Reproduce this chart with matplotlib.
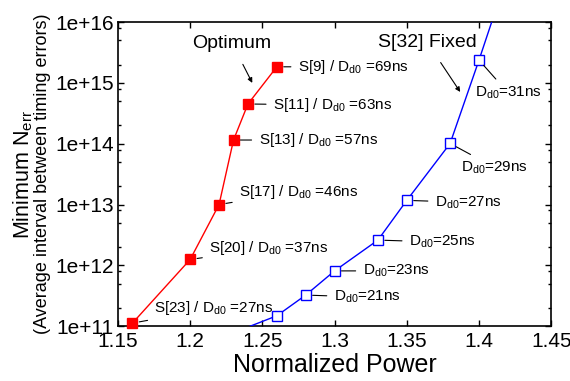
import numpy as np
import matplotlib
matplotlib.use('Agg')
import matplotlib.pyplot as plt
from matplotlib.ticker import LogLocator, FuncFormatter, MultipleLocator, NullFormatter

plt.rcParams['font.family'] = ['Liberation Sans', 'DejaVu Sans']
plt.rcParams['mathtext.fontset'] = 'custom'
plt.rcParams['mathtext.rm'] = 'Liberation Sans'
plt.rcParams['mathtext.it'] = 'Liberation Sans:italic'

# optimum schedule (red)
opt_power = [1.16, 1.20, 1.22, 1.23, 1.24, 1.26]
opt_nerr = [1.12e11, 1.25e12, 1.0e13, 1.15e14, 4.5e14, 1.84e15]
opt_labels = ['S[23] / D$_{\\mathrm{d0}}$ =27ns', 'S[20] / D$_{\\mathrm{d0}}$ =37ns',
              'S[17] / D$_{\\mathrm{d0}}$ =46ns', 'S[13] / D$_{\\mathrm{d0}}$ =57ns',
              'S[11] / D$_{\\mathrm{d0}}$ =63ns', 'S[9] / D$_{\\mathrm{d0}}$ =69ns']

# S[32] fixed (blue), first and last points fall outside the view
fix_power = [1.22, 1.26, 1.28, 1.30, 1.33, 1.35, 1.38, 1.40, 1.42]
fix_nerr = [6.3e10, 1.48e11, 3.24e11, 8.1e11, 2.6e12, 1.17e13, 1.01e14, 2.37e15, 6.3e16]
fix_labels = [None, None, 'D$_{\\mathrm{d0}}$=21ns', 'D$_{\\mathrm{d0}}$=23ns',
              'D$_{\\mathrm{d0}}$=25ns', 'D$_{\\mathrm{d0}}$=27ns',
              'D$_{\\mathrm{d0}}$=29ns', 'D$_{\\mathrm{d0}}$=31ns', None]

# label offsets in pixels (text left edge / vertical centre relative to point)
opt_offsets = [(22, 15), (19, 11), (20, 13), (25, 0), (25, -1), (21, 0)]
fix_offsets = [None, None, (28, -2), (28, 0), (31, -2), (28, -2), (11, -24), (-4, -33), None]

fig = plt.figure(figsize=(5.7, 3.81), dpi=100)
ax = fig.add_axes([0.207, 0.144, 0.760, 0.798])

ax.plot(opt_power, opt_nerr, '-s', color='#ff0000', lw=1, ms=7,
        mfc='#ff0000', mec='#ff0000', clip_on=False, zorder=3)
ax.plot(fix_power, fix_nerr, '-s', color='#0000ff', lw=1, ms=7,
        mfc='white', mec='#0000ff', mew=1, zorder=3)

ax.set_yscale('log')
ax.set_xlim(1.15, 1.45)
ax.set_ylim(1e11, 1e16)

ax.xaxis.set_major_locator(MultipleLocator(0.05))
ax.xaxis.set_major_formatter(FuncFormatter(lambda v, p: ('%.2f' % v).rstrip('0')))
ax.yaxis.set_major_locator(LogLocator(base=10, numticks=10))
ax.yaxis.set_minor_locator(LogLocator(base=10, subs=(2, 5, 8), numticks=10))
ax.yaxis.set_minor_formatter(NullFormatter())
ax.yaxis.set_major_formatter(FuncFormatter(lambda v, p: '1e+%d' % round(np.log10(v))))

ax.tick_params(which='both', direction='in', top=True, right=True, labelsize=15, width=1)
ax.tick_params(which='major', length=4, pad=3)
ax.tick_params(axis='x', which='major', pad=4)
ax.tick_params(which='minor', length=2.5)
for s in ax.spines.values():
    s.set_linewidth(1.2)

def leader(txt, x, y, off):
    ax.annotate(txt, xy=(x, y), xytext=off, textcoords='offset pixels',
                ha='left', va='center', fontsize=11,
                arrowprops=dict(arrowstyle='-', lw=0.8, color='black',
                                shrinkA=3, shrinkB=5))

for x, y, t, o in zip(opt_power, opt_nerr, opt_labels, opt_offsets):
    leader(t, x, y, o)
for x, y, t, o in zip(fix_power, fix_nerr, fix_labels, fix_offsets):
    if t:
        leader(t, x, y, o)

ax.annotate('Optimum', xy=(1.243, 1.0e15), xytext=(1.229, 4.5e15),
            ha='center', va='center', fontsize=14,
            arrowprops=dict(arrowstyle='-|>', lw=0.8, color='black',
                            mutation_scale=7, shrinkA=8, shrinkB=0))
ax.annotate('S[32] Fixed', xy=(1.387, 7.1e14), xytext=(1.364, 4.7e15),
            ha='center', va='center', fontsize=14,
            arrowprops=dict(arrowstyle='-|>', lw=0.8, color='black',
                            mutation_scale=7, shrinkA=8, shrinkB=0))

ax.set_xlabel('Normalized Power', fontsize=18, labelpad=2)
fig.text(23 / 570, 1 - 174 / 381, 'Minimum N$_{\\mathrm{err}}$', rotation=90,
         ha='center', va='center', fontsize=15.5)
fig.text(43 / 570, 1 - 174 / 381, '(Average interval between timing errors)',
         rotation=90, ha='center', va='center', fontsize=13)

fig.savefig('out.png', dpi=100)
